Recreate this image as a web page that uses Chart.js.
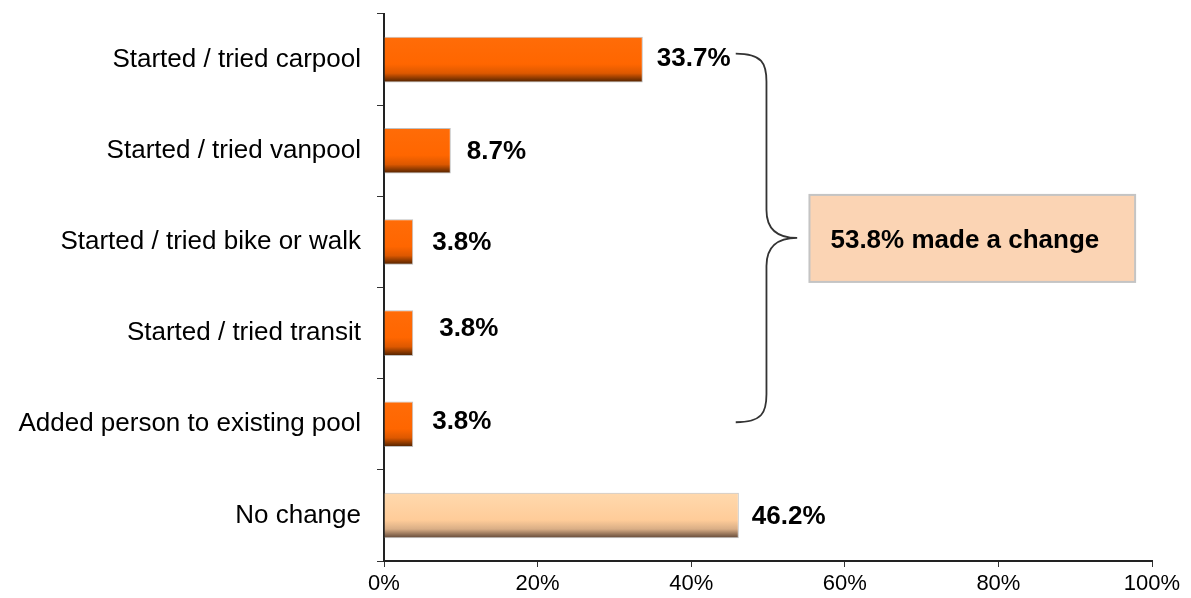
<!DOCTYPE html>
<html>
<head>
<meta charset="utf-8">
<script src="https://cdn.jsdelivr.net/npm/chart.js@4"></script>
<style>
    body { margin: 0; background: #fff; }
    #wrap { width: 1191px; height: 598px; position: relative; }
</style>
</head>
<body>
<div id="wrap"><canvas id="chart"></canvas></div>
<script>
// ===== DATA =====
const categories = [
    "Started / tried carpool",
    "Started / tried vanpool",
    "Started / tried bike or walk",
    "Started / tried transit",
    "Added person to existing pool",
    "No change"
];
const percents = [33.7, 8.7, 3.8, 3.8, 3.8, 46.2];
const xTicks = [0, 20, 40, 60, 80, 100];
const summaryValue = 53.8;
const summaryText = "53.8% made a change";

// label nudges (px), as placed in the original
const labelDx = [14, 16, 19, 26, 19, 13];
const labelDy = [-2, 0, 0, -5, -3, 0];

const FONT = '"Liberation Sans", Arial, Helvetica, sans-serif';
Chart.defaults.font.family = FONT;
Chart.defaults.color = "#000";

// ===== BAR FILL =====
function barFill(ctx) {
    const chart = ctx.chart;
    const yScale = chart.scales.y;
    const noChange = ctx.dataIndex === categories.length - 1;
    const flat = noChange ? "#FFCC99" : "#FF6600";
    if (!yScale || !chart.chartArea) return flat;
    const c = yScale.getPixelForValue(ctx.dataIndex);
    const half = (yScale.height / categories.length) * 0.5 / 2;
    const g = chart.ctx.createLinearGradient(0, c - half, 0, c + half);
    if (noChange) {
        g.addColorStop(0, "#FFD9AE");
        g.addColorStop(0.6, "#FFCC99");
        g.addColorStop(0.8, "#D9AE86");
        g.addColorStop(1, "#5E4535");
    } else {
        g.addColorStop(0, "#FF6C08");
        g.addColorStop(0.6, "#FF6600");
        g.addColorStop(0.8, "#DD5800");
        g.addColorStop(1, "#4A2000");
    }
    return g;
}

// ===== VALUE LABELS + BRACE + BOX =====
const annotations = {
    id: "annotations",
    afterDatasetsDraw(chart) {
        const ctx = chart.ctx;
        const meta = chart.getDatasetMeta(0);
        ctx.save();
        ctx.font = "bold 26px " + FONT;
        ctx.fillStyle = "#000";
        ctx.textAlign = "left";
        ctx.textBaseline = "middle";
        meta.data.forEach((bar, i) => {
            ctx.fillText(percents[i].toFixed(1) + "%", bar.x + labelDx[i], bar.y + labelDy[i] + 1);
        });
        ctx.restore();
    },
    afterDraw(chart) {
        const ctx = chart.ctx;
        const x = chart.scales.x;
        const y = chart.scales.y;

        // brace around the five "change" bars
        const x0 = x.getPixelForValue(45.8);
        const xb = x.getPixelForValue(49.8);
        const xt = x.getPixelForValue(summaryValue);
        const y0 = y.getPixelForValue(0) - 6;
        const y1 = y.getPixelForValue(4) - 2;
        const mid = (y0 + y1) / 2;
        const r = 28;
        ctx.save();
        ctx.strokeStyle = "#333";
        ctx.lineWidth = 1.8;
        ctx.beginPath();
        ctx.moveTo(x0, y0);
        ctx.bezierCurveTo(xb - 4, y0, xb, y0 + 10, xb, y0 + r);
        ctx.lineTo(xb, mid - r);
        ctx.bezierCurveTo(xb, mid - 6, xb + 14, mid, xt, mid);
        ctx.bezierCurveTo(xb + 14, mid, xb, mid + 6, xb, mid + r);
        ctx.lineTo(xb, y1 - r);
        ctx.bezierCurveTo(xb, y1 - 10, xb - 4, y1, x0, y1);
        ctx.stroke();

        // summary box
        const bx0 = x.getPixelForValue(55.4);
        const bx1 = x.getPixelForValue(97.8);
        const by0 = mid - 43;
        const by1 = mid + 44;
        ctx.fillStyle = "#FBD4B4";
        ctx.fillRect(bx0, by0, bx1 - bx0, by1 - by0);
        ctx.strokeStyle = "#C4C4C4";
        ctx.lineWidth = 2;
        ctx.strokeRect(bx0, by0, bx1 - bx0, by1 - by0);

        ctx.font = "bold 26px " + FONT;
        ctx.fillStyle = "#000";
        ctx.textAlign = "left";
        ctx.textBaseline = "middle";
        ctx.fillText(summaryText, bx0 + 21, mid + 3);
        ctx.restore();
    }
};

// ===== CHART =====
new Chart(document.getElementById("chart").getContext("2d"), {
    type: "bar",
    data: {
        labels: categories,
        datasets: [{
            data: percents,
            backgroundColor: barFill,
            borderColor: "rgba(185,185,185,0.9)",
            borderWidth: 1,
            borderSkipped: "left",
            barPercentage: 0.5,
            categoryPercentage: 1.0
        }]
    },
    options: {
        indexAxis: "y",
        responsive: true,
        maintainAspectRatio: false,
        animation: false,
        layout: { padding: { top: 14, right: 39, left: 0, bottom: 0 } },
        plugins: {
            legend: { display: false },
            tooltip: { enabled: false }
        },
        scales: {
            x: {
                min: 0,
                max: 100,
                afterBuildTicks: (s) => { s.ticks = xTicks.map(v => ({ value: v })); },
                afterFit: (s) => { s.height = 37; },
                ticks: {
                    callback: (v) => v + "%",
                    font: { size: 22 },
                    color: "#000",
                    padding: 4,
                    maxRotation: 0
                },
                grid: {
                    drawOnChartArea: false,
                    drawTicks: true,
                    tickLength: 6,
                    color: "#333",
                    lineWidth: 1
                },
                border: { display: true, color: "#222", width: 2 }
            },
            y: {
                afterFit: (s) => {
                    s.width = 384;
                    s.paddingTop = 0;
                    s.paddingBottom = 0;
                },
                ticks: {
                    font: { size: 26 },
                    color: "#000",
                    padding: 16
                },
                grid: {
                    offset: true,
                    drawOnChartArea: false,
                    drawTicks: true,
                    tickLength: 7,
                    color: "#333",
                    lineWidth: 1
                },
                border: { display: true, color: "#222", width: 2 }
            }
        }
    },
    plugins: [annotations]
});
</script>
</body>
</html>
